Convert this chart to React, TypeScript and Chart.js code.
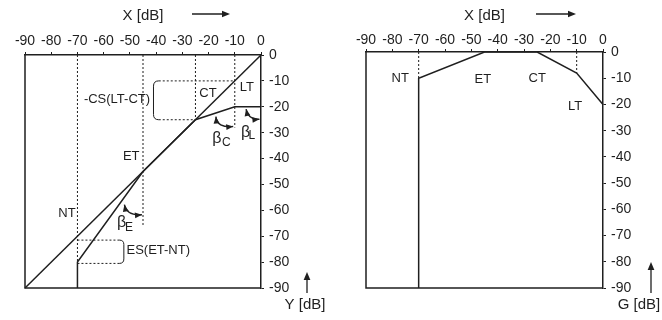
import React, { useEffect, useRef } from "react";
import { Chart, registerables } from "chart.js";

Chart.register(...registerables);

const FONT = '"Liberation Sans", Arial, Helvetica, sans-serif';
const INK = "#1f1f1f";

// ---- data -----------------------------------------------------------
const axisMin = -90;
const axisMax = 0;
const tickStep = 10;

const thresholdNames = ["NT", "ET", "CT", "LT"];

// static curve (left): identity and output level Y over input X
const identityX = [-90, 0];
const identityY = [-90, 0];
const outputX = [-70, -70, -45, -25, -10, 0];
const outputY = [-90, -80, -45, -25, -20, -20];

// gain curve (right): G over input X
const gainX = [-70, -70, -45, -25, -10, 0];
const gainY = [-90, -10, 0, 0, -8, -20];

// dotted guide segments [x1, y1, x2, y2]
type Seg = [number, number, number, number];
const staticGuides: Seg[] = [
  [-70, 0, -70, -80],
  [-45, 0, -45, -66],
  [-25, 0, -25, -25],
  [-10, 0, -10, -28],
  [-39, -10, -10, -10],
  [-39, -25, -25, -25],
  [-70, -71.5, -54, -71.5],
  [-70, -80.5, -54, -80.5],
];
const gainGuides: Seg[] = [
  [-70, 0, -70, -10],
  [-10, 0, -10, -8],
];

// ---- annotation placement (data units) ------------------------------
const staticLabelAt: [number, number][] = [[-74, -61], [-49.5, -39], [-20.2, -15], [-5.4, -12.4]];
const gainLabelAt: [number, number][] = [[-77, -9.9], [-45.6, -10.3], [-25, -10], [-10.6, -20.6]];

type Label = { text: string; x: number; y: number; align?: CanvasTextAlign };
type Bracket = { from: number; edge: number; top: number; bottom: number };
type Beta = {
  start: [number, number];
  ctrl: [number, number];
  end: [number, number];
  sub: string;
  at: [number, number];
  subAt: [number, number];
};
type Decor = {
  labels: Label[];
  brackets: Bracket[];
  betas: Beta[];
  xArrow: [number, number];
  yTitle: { text: string; dx: number };
  yArrow: { dx: number; y1: number; y2: number };
};

const staticDecor: Decor = {
  labels: [
    ...thresholdNames.map((t, i) => ({ text: t, x: staticLabelAt[i][0], y: staticLabelAt[i][1] })),
    { text: "-CS(LT-CT)", x: -42.3, y: -17, align: "right" },
    { text: "ES(ET-NT)", x: -51.3, y: -75.6, align: "left" },
  ],
  brackets: [
    { from: -39, edge: -41, top: -10, bottom: -25 },
    { from: -54, edge: -52.3, top: -71.5, bottom: -80.5 },
  ],
  betas: [
    { start: [-17.2, -23.8], ctrl: [-16.8, -28.2], end: [-10.6, -27.6], sub: "C", at: [-16.8, -32.4], subAt: [-13.2, -34] },
    { start: [-5.7, -20.9], ctrl: [-4.8, -25.2], end: [-0.6, -24.8], sub: "L", at: [-5.9, -29.9], subAt: [-3.5, -31.2] },
    { start: [-52.1, -57.8], ctrl: [-51.2, -62.2], end: [-45.4, -61.7], sub: "E", at: [-53.2, -64.6], subAt: [-50.3, -66.8] },
  ],
  xArrow: [-69, -31],
  yTitle: { text: "Y [dB]", dx: 44 },
  yArrow: { dx: 46, y1: 293, y2: 272 },
};

const gainDecor: Decor = {
  labels: thresholdNames.map((t, i) => ({ text: t, x: gainLabelAt[i][0], y: gainLabelAt[i][1] })),
  brackets: [],
  betas: [],
  xArrow: [-67, -27],
  yTitle: { text: "G [dB]", dx: 36 },
  yArrow: { dx: 48, y1: 293, y2: 262 },
};

// ---- helpers ---------------------------------------------------------
const zip = (xs: number[], ys: number[]) => xs.map((x, i) => ({ x, y: ys[i] }));

function arrowHead(ctx: CanvasRenderingContext2D, x: number, y: number, ang: number, size = 6) {
  ctx.save();
  ctx.translate(x, y);
  ctx.rotate(ang);
  ctx.beginPath();
  ctx.moveTo(0, 0);
  ctx.lineTo(-size, -size * 0.42);
  ctx.lineTo(-size, size * 0.42);
  ctx.closePath();
  ctx.fill();
  ctx.restore();
}

function decorPlugin(d: Decor) {
  return {
    id: "decor",
    beforeDatasetsDraw(chart: any) {
      const { ctx, chartArea: a } = chart;
      ctx.save();
      ctx.strokeStyle = INK;
      ctx.lineWidth = 1.5;
      ctx.beginPath();
      ctx.moveTo(a.left, a.top);
      ctx.lineTo(a.left, a.bottom);
      ctx.lineTo(a.right, a.bottom);
      ctx.stroke();
      ctx.restore();
    },
    afterDatasetsDraw(chart: any) {
      const { ctx, chartArea: a, scales } = chart;
      const X = (v: number) => scales.x.getPixelForValue(v);
      const Y = (v: number) => scales.y.getPixelForValue(v);
      ctx.save();
      ctx.fillStyle = INK;
      ctx.strokeStyle = INK;
      ctx.textBaseline = "middle";

      // brackets
      ctx.lineWidth = 1;
      d.brackets.forEach((b) => {
        const xf = X(b.from), xe = X(b.edge), yt = Y(b.top), yb = Y(b.bottom);
        const r = Math.abs(xf - xe);
        ctx.beginPath();
        ctx.moveTo(xf, yt);
        ctx.quadraticCurveTo(xe, yt, xe, yt + r);
        ctx.lineTo(xe, yb - r);
        ctx.quadraticCurveTo(xe, yb, xf, yb);
        ctx.stroke();
      });

      ctx.font = `13px ${FONT}`;
      d.labels.forEach((l) => {
        ctx.textAlign = l.align || "center";
        ctx.fillText(l.text, X(l.x), Y(l.y));
      });

      // beta angle arrows
      d.betas.forEach((b) => {
        const p0 = [X(b.start[0]), Y(b.start[1])];
        const c = [X(b.ctrl[0]), Y(b.ctrl[1])];
        const p1 = [X(b.end[0]), Y(b.end[1])];
        ctx.lineWidth = 1.4;
        ctx.beginPath();
        ctx.moveTo(p0[0], p0[1]);
        ctx.quadraticCurveTo(c[0], c[1], p1[0], p1[1]);
        ctx.stroke();
        arrowHead(ctx, p0[0], p0[1], Math.atan2(p0[1] - c[1], p0[0] - c[0]), 7);
        arrowHead(ctx, p1[0], p1[1], Math.atan2(p1[1] - c[1], p1[0] - c[0]), 7);
        ctx.textAlign = "center";
        ctx.font = `16px ${FONT}`;
        ctx.fillText("\u03b2", X(b.at[0]), Y(b.at[1]));
        ctx.font = `12px ${FONT}`;
        ctx.fillText(b.sub, X(b.subAt[0]), Y(b.subAt[1]));
      });

      // axis direction arrows and vertical axis title
      ctx.lineWidth = 1.3;
      const ax0 = a.right + d.xArrow[0], ax1 = a.right + d.xArrow[1];
      ctx.beginPath();
      ctx.moveTo(ax0, 14);
      ctx.lineTo(ax1 - 4, 14);
      ctx.stroke();
      arrowHead(ctx, ax1, 14, 0, 8);

      const vx = a.right + d.yArrow.dx;
      ctx.beginPath();
      ctx.moveTo(vx, d.yArrow.y1);
      ctx.lineTo(vx, d.yArrow.y2 + 4);
      ctx.stroke();
      arrowHead(ctx, vx, d.yArrow.y2, -Math.PI / 2, 8);

      ctx.font = `15px ${FONT}`;
      ctx.textAlign = "center";
      ctx.fillText(d.yTitle.text, a.right + d.yTitle.dx, 305);
      ctx.restore();
    },
  };
}

type PanelLayout = { padLeft: number; padBottom: number; topH: number; rightW: number; tickPad: number };

function buildConfig(datasets: any[], decor: Decor, lay: PanelLayout): any {
  return {
    type: "scatter",
    data: { datasets },
    options: {
      animation: false,
      responsive: false,
      devicePixelRatio: 1,
      events: [],
      layout: { padding: { left: lay.padLeft, bottom: lay.padBottom, top: 0, right: 0 } },
      plugins: { legend: { display: false }, tooltip: { enabled: false } },
      scales: {
        x: {
          type: "linear",
          position: "top",
          min: axisMin,
          max: axisMax,
          afterFit: (s: any) => {
            s.height = lay.topH;
          },
          ticks: {
            stepSize: tickStep,
            autoSkip: false,
            maxRotation: 0,
            padding: lay.tickPad,
            color: INK,
            font: { family: FONT, size: 14 },
          },
          grid: { drawOnChartArea: false, drawTicks: true, tickLength: 3, color: INK, lineWidth: 1 },
          border: { display: true, color: INK, width: 1.5 },
          title: {
            display: true,
            text: "X [dB]",
            color: INK,
            font: { family: FONT, size: 15 },
            padding: { top: 7, bottom: 0 },
          },
        },
        y: {
          type: "linear",
          position: "right",
          min: axisMin,
          max: axisMax,
          afterFit: (s: any) => {
            s.width = lay.rightW;
          },
          ticks: {
            stepSize: tickStep,
            autoSkip: false,
            padding: 5,
            color: INK,
            font: { family: FONT, size: 14 },
          },
          grid: { drawOnChartArea: false, drawTicks: true, tickLength: 3, color: INK, lineWidth: 1 },
          border: { display: true, color: INK, width: 1.5 },
        },
      },
    },
    plugins: [decorPlugin(decor)],
  };
}

const solid = (xs: number[], ys: number[]) => ({
  data: zip(xs, ys),
  showLine: true,
  borderColor: INK,
  borderWidth: 1.5,
  pointRadius: 0,
  clip: false,
});

const dotted = (s: Seg) => ({
  data: [
    { x: s[0], y: s[1] },
    { x: s[2], y: s[3] },
  ],
  showLine: true,
  borderColor: INK,
  borderWidth: 1,
  borderDash: [2, 2],
  pointRadius: 0,
  clip: false,
});

export default function App() {
  const leftRef = useRef<HTMLCanvasElement>(null);
  const rightRef = useRef<HTMLCanvasElement>(null);

  useEffect(() => {
    const left = new Chart(
      leftRef.current!,
      buildConfig(
        [...staticGuides.map(dotted), solid(identityX, identityY), solid(outputX, outputY)],
        staticDecor,
        { padLeft: 25, padBottom: 32, topH: 55, rightW: 70, tickPad: 2 }
      )
    );
    const right = new Chart(
      rightRef.current!,
      buildConfig(
        [...gainGuides.map(dotted), solid(gainX, gainY)],
        gainDecor,
        { padLeft: 35, padBottom: 32, topH: 52, rightW: 59, tickPad: 0 }
      )
    );
    return () => {
      left.destroy();
      right.destroy();
    };
  }, []);

  return (
    <div style={{ position: "absolute", left: 0, top: 0, width: 662, height: 320, background: "#fff" }}>
      <canvas ref={leftRef} width={331} height={320} style={{ position: "absolute", left: 0, top: 0, width: 331, height: 320 }} />
      <canvas ref={rightRef} width={331} height={320} style={{ position: "absolute", left: 331, top: 0, width: 331, height: 320 }} />
    </div>
  );
}
